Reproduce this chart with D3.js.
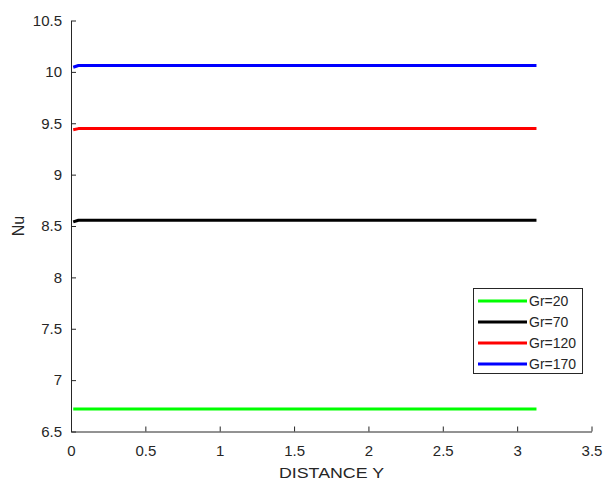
<!DOCTYPE html>
<html>
<head>
<meta charset="utf-8">
<script src="https://cdn.jsdelivr.net/npm/d3@7"></script>
<style>
  html, body { margin: 0; padding: 0; background: #fff; }
  svg { display: block; font-family: "Liberation Sans", Arial, sans-serif; }
</style>
</head>
<body>
<svg id="chart" width="605" height="480"></svg>
<script>
// Nusselt number along the distance Y for several Grashof numbers
const distanceY = [0.015, 0.05, 0.5, 1.0, 1.5, 2.0, 2.5, 3.0, 3.13];
const nuGr20  = [6.72, 6.72, 6.72, 6.72, 6.72, 6.72, 6.72, 6.72, 6.72];
const nuGr70  = [8.54, 8.556, 8.556, 8.556, 8.556, 8.556, 8.556, 8.556, 8.556];
const nuGr120 = [9.437, 9.448, 9.448, 9.448, 9.448, 9.448, 9.448, 9.448, 9.448];
const nuGr170 = [10.045, 10.062, 10.062, 10.062, 10.062, 10.062, 10.062, 10.062, 10.062];

const seriesNames = ["Gr=20", "Gr=70", "Gr=120", "Gr=170"];
const seriesColors = ["#00ff00", "#000000", "#ff0000", "#0000ff"];
const seriesValues = [nuGr20, nuGr70, nuGr120, nuGr170];

const xTicks = [0, 0.5, 1, 1.5, 2, 2.5, 3, 3.5];
const yTicks = [6.5, 7, 7.5, 8, 8.5, 9, 9.5, 10, 10.5];

const svg = d3.select("#chart");
const plotLeft = 71, plotRight = 591.5, plotTop = 20.5, plotBottom = 431.5;
const axisColor = "#262626";

const x = d3.scaleLinear().domain([0, 3.5]).range([plotLeft, plotRight]);
const y = d3.scaleLinear().domain([6.5, 10.5]).range([plotBottom, plotTop]);

// bottom axis (ticks pointing inward)
const gx = svg.append("g").attr("transform", `translate(0,${plotBottom})`)
  .call(d3.axisBottom(x).tickValues(xTicks).tickFormat(d3.format("")).tickSizeInner(-5).tickSizeOuter(0).tickPadding(14));
// left axis
const gy = svg.append("g").attr("transform", `translate(${plotLeft},0)`)
  .call(d3.axisLeft(y).tickValues(yTicks).tickFormat(d3.format("")).tickSizeInner(-5).tickSizeOuter(0).tickPadding(9));

[gx, gy].forEach(g => {
  g.select(".domain").attr("stroke", axisColor).attr("stroke-width", 1);
  g.selectAll(".tick line").attr("stroke", axisColor);
  g.selectAll(".tick text").attr("fill", axisColor).attr("font-size", 15)
    .attr("font-family", "Liberation Sans, Arial, sans-serif");
});

// series lines
const line = d3.line().x((d, i) => x(distanceY[i])).y(d => y(d));
seriesValues.forEach((vals, k) => {
  svg.append("path").datum(vals)
    .attr("d", line)
    .attr("fill", "none")
    .attr("stroke", seriesColors[k])
    .attr("stroke-width", 3)
    .attr("stroke-linejoin", "round");
});

// axis labels
svg.append("text").attr("x", 331.5).attr("y", 477.5)
  .attr("text-anchor", "middle").attr("font-size", 15.5).attr("fill", axisColor)
  .attr("textLength", 105).attr("lengthAdjust", "spacingAndGlyphs")
  .text("DISTANCE Y");
svg.append("text").attr("transform", `translate(23.5,${(plotTop + plotBottom) / 2}) rotate(-90)`)
  .attr("text-anchor", "middle").attr("font-size", 16).attr("fill", axisColor)
  .text("Nu");

// legend
const lg = svg.append("g");
lg.append("rect").attr("x", 473.5).attr("y", 288.5).attr("width", 109).attr("height", 85)
  .attr("fill", "#fff").attr("stroke", axisColor).attr("stroke-width", 1);
seriesNames.forEach((name, k) => {
  const ly = 301 + k * 21;
  lg.append("line").attr("x1", 478).attr("x2", 527).attr("y1", ly).attr("y2", ly)
    .attr("stroke", seriesColors[k]).attr("stroke-width", 3);
  lg.append("text").attr("x", 529).attr("y", ly + 5).attr("font-size", 14)
    .attr("fill", axisColor).text(name);
});
</script>
</body>
</html>
